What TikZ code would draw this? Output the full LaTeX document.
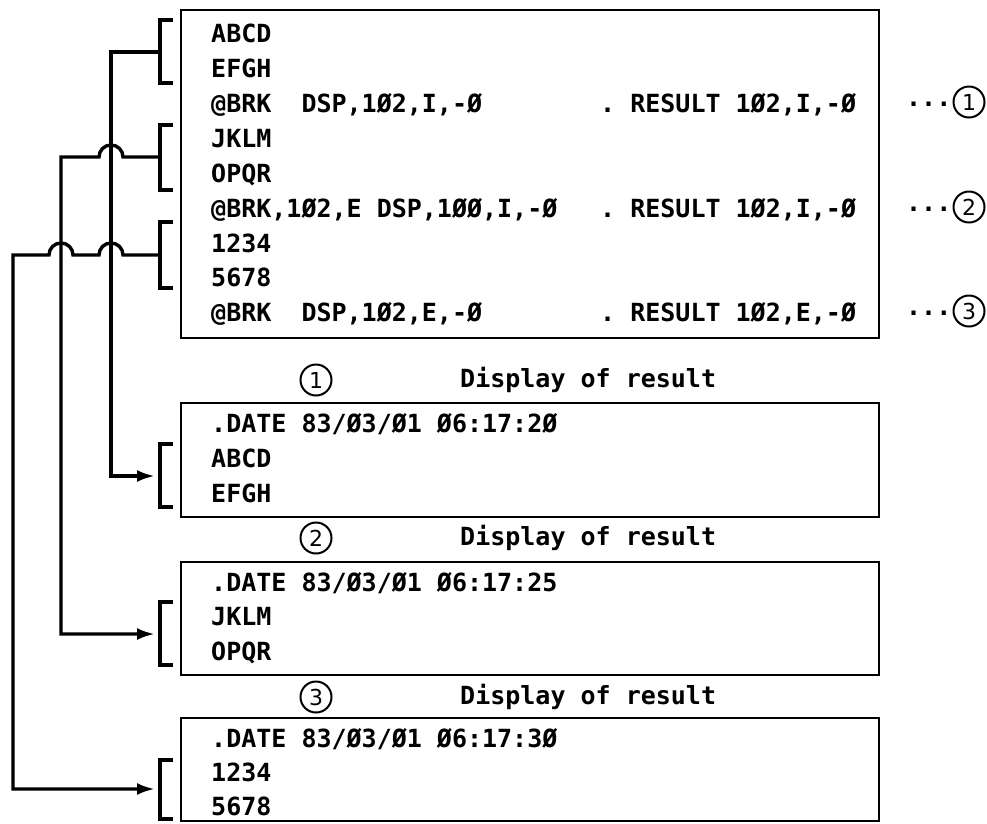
\documentclass[tikz,border=0pt]{standalone}
\usepackage{fontspec}
\setmonofont{DejaVu Sans Mono}
\setsansfont{DejaVu Sans}
\usetikzlibrary{arrows.meta,positioning,calc}

\begin{document}
\begin{tikzpicture}[x=1pt,y=-1pt]
\tikzset{frame/.style={draw,line width=2.8pt},
 ln/.style={anchor=base west,inner sep=0pt,font=\fontsize{25}{30}\selectfont\ttfamily\bfseries},
 num/.style={circle,draw,line width=2pt,minimum size=31pt,inner sep=0pt,font=\fontsize{22}{24}\selectfont\sffamily},
 brk/.style={line width=3.4pt},
 wire/.style={line width=3.4pt},
 arr/.style={wire,-{Latex[length=18pt,width=12pt]}}}
\useasboundingbox (0,0) rectangle (987,823);
% source with the three breakpoints
\draw[frame] (181,10) rectangle (879,338);
\node[ln] (l1) at (211,42) {ABCD};
\node[ln] (l2) at (211,77) {EFGH};
\node[ln] (l3) at (211,112) {@BRK\ \ DSP,1Ø2,I,-Ø};
\node[ln] (l4) at (211,147) {JKLM};
\node[ln] (l5) at (211,182) {OPQR};
\node[ln] (l6) at (211,217) {@BRK,1Ø2,E DSP,1ØØ,I,-Ø};
\node[ln] (l7) at (211,252) {1234};
\node[ln] (l8) at (211,286) {5678};
\node[ln] (l9) at (211,321) {@BRK\ \ DSP,1Ø2,E,-Ø};
\node[ln] (r1) at (600,112) {. RESULT 1Ø2,I,-Ø};
\node[ln] (r2) at (600,217) {. RESULT 1Ø2,I,-Ø};
\node[ln] (r3) at (600,321) {. RESULT 1Ø2,E,-Ø};
\node[num] (n1) at (969,102) {1};
\node[num] (n2) at (969,207) {2};
\node[num] (n3) at (969,311) {3};
\node[ln,anchor=base east] (d1) at ($(n1.west)+(-1,4)$) {...};
\node[ln,anchor=base east] (d2) at ($(n2.west)+(-1,4)$) {...};
\node[ln,anchor=base east] (d3) at ($(n3.west)+(-1,4)$) {...};
\draw[brk] (173,20) -| (160,83) -- (173,83);
\draw[brk] (173,125) -| (160,190) -- (173,190);
\draw[brk] (173,222) -| (160,288) -- (173,288);
% results
\node[num] (m1) at (316,380) {1};
\node[ln] (h1) at (460,387) {Display of result};
\draw[frame] (181,403) rectangle (879,517);
\node[ln] (a1) at (211,432) {.DATE 83/Ø3/Ø1 Ø6:17:2Ø};
\node[ln] (a2) at (211,467) {ABCD};
\node[ln] (a3) at (211,502) {EFGH};
\draw[brk] (173,444) -| (160,507) -- (173,507);
\node[num] (m2) at (316,538) {2};
\node[ln] (h2) at (460,545) {Display of result};
\draw[frame] (181,562) rectangle (879,675);
\node[ln] (b1) at (211,591) {.DATE 83/Ø3/Ø1 Ø6:17:25};
\node[ln] (b2) at (211,625) {JKLM};
\node[ln] (b3) at (211,660) {OPQR};
\draw[brk] (173,602) -| (160,665) -- (173,665);
\node[num] (m3) at (316,697) {3};
\node[ln] (h3) at (460,704) {Display of result};
\draw[frame] (181,718) rectangle (879,821);
\node[ln] (c1) at (211,747) {.DATE 83/Ø3/Ø1 Ø6:17:3Ø};
\node[ln] (c2) at (211,781) {1234};
\node[ln] (c3) at (211,815) {5678};
\draw[brk] (173,760) -| (160,819) -- (173,819);
% wiring with hops
\coordinate (s1) at (160,52);
\coordinate (s2) at (160,157);
\coordinate (s3) at (160,255);
\coordinate (t1) at (155,476);
\coordinate (t2) at (155,634);
\coordinate (t3) at (155,789);
\coordinate (x1) at (111,0);
\coordinate (x2) at (61,0);
\coordinate (x3) at (13,0);
\draw[arr] (s1) -- (s1 -| x1) -- (x1 |- t1) -- (t1);
\draw[arr] (s2) -- ($(s2 -| x1)+(12,0)$) arc[start angle=0,end angle=-180,radius=12]
 -- (s2 -| x2) -- (x2 |- t2) -- (t2);
\draw[arr] (s3) -- ($(s3 -| x1)+(12,0)$) arc[start angle=0,end angle=-180,radius=12]
 -- ($(s3 -| x2)+(12,0)$) arc[start angle=0,end angle=-180,radius=12]
 -- (s3 -| x3) -- (x3 |- t3) -- (t3);
\end{tikzpicture}
\end{document}
